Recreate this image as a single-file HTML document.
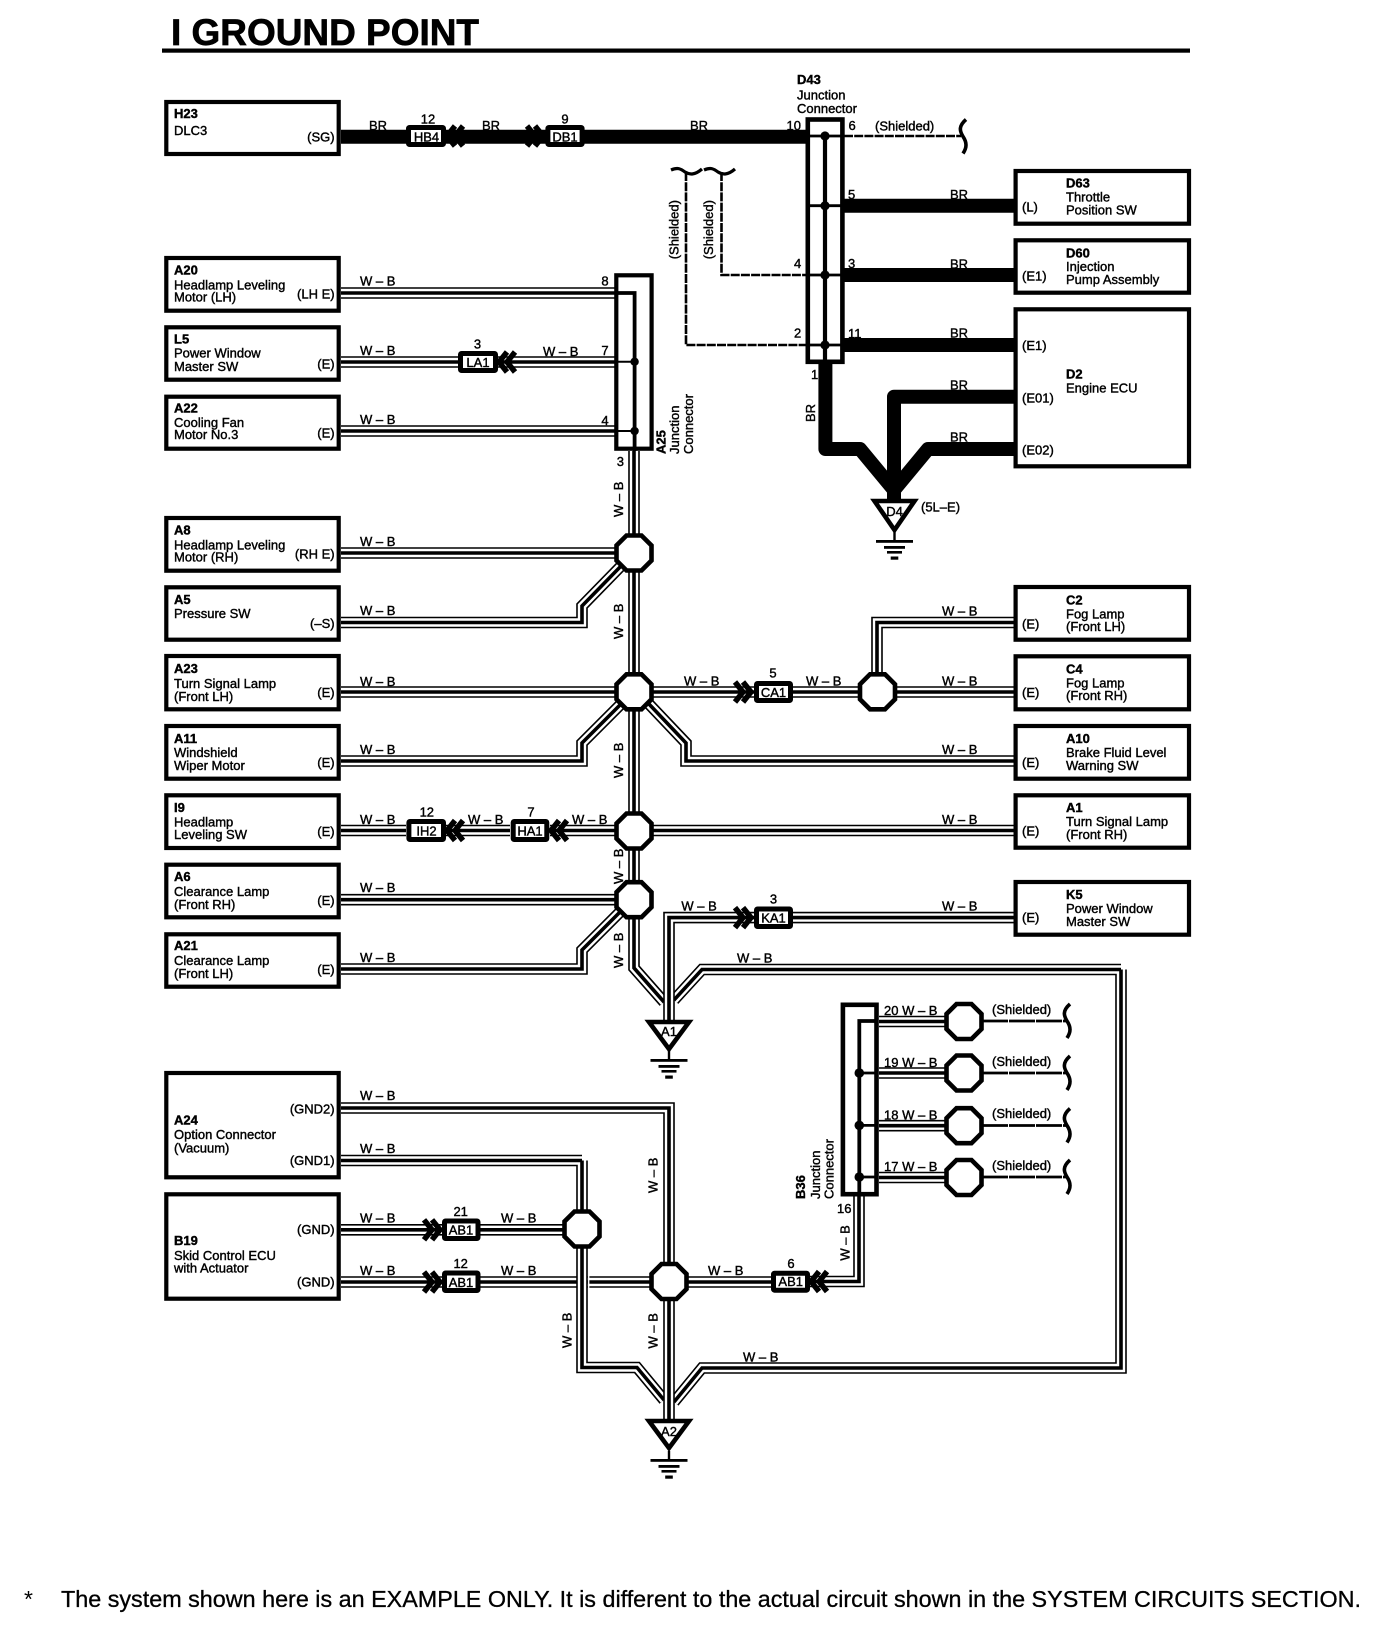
<!DOCTYPE html>
<html><head><meta charset="utf-8"><title>I GROUND POINT</title>
<style>
html,body{margin:0;padding:0;background:#fff}
svg{display:block}
text{font-family:"Liberation Sans",Arial,sans-serif;font-size:13px;fill:#000;stroke:#000;stroke-width:.4}
.b{font-weight:bold}
.e{text-anchor:end}
.m{text-anchor:middle}
.box rect{fill:#fff;stroke:#000;stroke-width:4.2}
.sb rect{fill:#fff;stroke:#000;stroke-width:5}
.oc use{fill:#fff;stroke:#000;stroke-width:4.6}
.tri polygon{fill:#fff;stroke:#000;stroke-width:4.6;stroke-miterlimit:8}
</style></head><body>
<svg width="1392" height="1628" viewBox="0 0 1392 1628" xmlns="http://www.w3.org/2000/svg">
<defs>
<g id="w0" fill="none">
<path d="M341 293H615M341 362H458M498 362H615M341 431H615"/>
<path d="M341 553H634M341 692H1014M341 830.5H406M446 830.5H510M550 830.5H1014M341 899.7H634"/>
<path d="M793 917.6H1014M877 692V622.5H1014"/>
<path d="M341 1229.8H582M341 1282H771M859 1190V1281.5H810"/>
<path d="M879 1021.5H964M879 1073H964M879 1125.7H964M879 1177.5H964"/>
</g>
<g id="w1" fill="none">
<path d="M341 622.5H582V606L622 565"/>
<path d="M341 761H582V743L622 703"/>
<path d="M648 703L686 743V761H1014"/>
<path d="M341 969H582V950L622 910"/>
<path d="M634 451V968L664 1002"/>
<path d="M1121 969.5H702L674 1000M1121 969.5V1368H702L674 1402"/>
<path d="M582 1160.5H341M582 1160.5V1367.5H637L664 1400"/>
</g>
<g id="w2" fill="none">
<path d="M754 917.6H669V1022"/>
<path d="M341 1108H669V1421"/>
</g>
<polygon id="oct" points="-7.5,-17.5 7.5,-17.5 17.5,-7.5 17.5,7.5 7.5,17.5 -7.5,17.5 -17.5,7.5 -17.5,-7.5"/>
<g id="cr" fill="none" stroke="#000" stroke-width="5.5"><path d="M0 -10L8 0L0 10M8 -10L16 0L8 10"/></g>
<g id="cl" fill="none" stroke="#000" stroke-width="5.5"><path d="M8 -10L0 0L8 10M16 -10L8 0L16 10"/></g>
<path id="sq" d="M3 -17C-5 -10 -3 -5 0 0C4 6 4 11 0 17" fill="none" stroke="#000" stroke-width="3.6"/>
<path id="sh" d="M-16 -2C-9 -5 -6 -3 -2 0C3 3 8 3 15 -3" fill="none" stroke="#000" stroke-width="3.2"/>
<g id="gnd" fill="#000"><rect x="-1.2" y="0" width="2.4" height="9"/><rect x="-18.5" y="8" width="37" height="2.8"/><rect x="-10.5" y="14" width="21" height="2.8"/><rect x="-7.5" y="19" width="15" height="2.6"/><rect x="-3.8" y="24.5" width="7.6" height="3.2"/></g>
</defs>

<!-- title -->
<text x="171" y="45" class="b" style="font-size:36.6px;stroke-width:.7" textLength="308" lengthAdjust="spacingAndGlyphs">I GROUND POINT</text>
<rect x="162" y="48.5" width="1028" height="4.2" fill="#000"/>

<!-- thin wires -->
<use href="#w0" stroke="#000" stroke-width="11.6"/><use href="#w0" stroke="#fff" stroke-width="8.4"/><use href="#w0" stroke="#000" stroke-width="3.6"/>
<rect x="587.8" y="1275" width="1.6" height="14" fill="#fff"/>
<use href="#w1" stroke="#000" stroke-width="11.6"/><use href="#w1" stroke="#fff" stroke-width="8.4"/><use href="#w1" stroke="#000" stroke-width="3.6"/>
<use href="#w2" stroke="#000" stroke-width="11.6"/><use href="#w2" stroke="#fff" stroke-width="8.4"/><use href="#w2" stroke="#000" stroke-width="3.6"/>

<!-- thick BR wires -->
<g fill="none" stroke="#000" stroke-width="14" stroke-linejoin="round">
<path d="M341 136.7H806M844 205.7H1014M844 275H1014M844 345H1014"/>
<path d="M825.4 362V449H860L894 490"/>
<path d="M1014 449H928L894 490"/>
<path d="M1014 396.7H894V500"/>
</g>

<!-- shielded dashed -->
<g fill="none" stroke="#000" stroke-width="2.6" stroke-dasharray="9 1.2">
<path d="M844 136H961"/>
<path d="M721.5 172V275H806"/>
<path d="M686 172V345H806"/>
</g>
<g fill="none" stroke="#000" stroke-width="2.8" stroke-dasharray="26 1">
<path d="M982 1021H1067M982 1073H1067M982 1125.5H1067M982 1177H1067"/>
</g>
<use href="#sq" x="963" y="136.5"/>
<use href="#sh" x="687" y="172"/><use href="#sh" x="720" y="172"/>
<use href="#sq" x="1067" y="1021"/><use href="#sq" x="1067" y="1073"/><use href="#sq" x="1067" y="1125.5"/><use href="#sq" x="1067" y="1177"/>

<!-- octagons -->
<g class="oc">
<use href="#oct" x="634" y="553"/><use href="#oct" x="634" y="691.8"/><use href="#oct" x="634" y="831"/><use href="#oct" x="634" y="899.7"/>
<use href="#oct" x="877.5" y="691.8"/><use href="#oct" x="582" y="1229"/><use href="#oct" x="669" y="1281.5"/>
<use href="#oct" x="964" y="1021.5"/><use href="#oct" x="964" y="1073"/><use href="#oct" x="964" y="1125.7"/><use href="#oct" x="964" y="1177.5"/>
</g>

<!-- main boxes -->
<g class="box">
<rect x="166.3" y="102" width="172.4" height="52"/>
<rect x="166.3" y="258" width="172.4" height="52.7"/>
<rect x="166.3" y="327.3" width="172.4" height="52.4"/>
<rect x="166.3" y="396.7" width="172.4" height="52"/>
<rect x="166.3" y="518" width="172.4" height="52.7"/>
<rect x="166.3" y="587.3" width="172.4" height="52.4"/>
<rect x="166.3" y="656" width="172.4" height="53.3"/>
<rect x="166.3" y="726" width="172.4" height="52.7"/>
<rect x="166.3" y="795.3" width="172.4" height="52.7"/>
<rect x="166.3" y="864.7" width="172.4" height="52.6"/>
<rect x="166.3" y="934.3" width="172.4" height="52.4"/>
<rect x="166.3" y="1073" width="172.4" height="104.3"/>
<rect x="166.3" y="1194.3" width="172.4" height="104.4"/>
<rect x="1015.6" y="171" width="173.4" height="52.7"/>
<rect x="1015.6" y="240.3" width="173.4" height="52.4"/>
<rect x="1015.6" y="309.3" width="173.4" height="157"/>
<rect x="1015.6" y="587" width="173.4" height="52.7"/>
<rect x="1015.6" y="656.3" width="173.4" height="53"/>
<rect x="1015.6" y="726" width="173.4" height="52.7"/>
<rect x="1015.6" y="795.3" width="173.4" height="52.4"/>
<rect x="1015.6" y="882" width="173.4" height="52.7"/>
<!-- junction connectors -->
<rect x="616.3" y="275.3" width="35.3" height="173.4"/>
<rect x="807.8" y="119.5" width="34.6" height="242.3" style="stroke-width:4.6"/>
<rect x="842.9" y="1004.8" width="33.6" height="189.4" style="stroke-width:4.6"/>
</g>

<!-- internals -->
<g fill="none" stroke="#000">
<path d="M616 293H634.6V451" stroke-width="3.8"/>
<path d="M616 361.7H634.6M616 431H634.6" stroke-width="2"/>
<path d="M825 136V364" stroke-width="4.2"/>
<path d="M807 136H843M807 205.7H843M807 275H843M807 345H843" stroke-width="2.8"/>
<path d="M859.3 1196V1021H877" stroke-width="3.8"/>
<path d="M859 1073H877M859 1125.4H877M859 1177H877" stroke-width="2.8"/>
</g>
<g fill="#000">
<circle cx="634.6" cy="361.7" r="4.2"/><circle cx="634.6" cy="431" r="4.2"/>
<circle cx="825" cy="136" r="4.6"/><circle cx="825" cy="205.7" r="4.6"/><circle cx="825" cy="275" r="4.6"/><circle cx="825" cy="345" r="4.6"/>
<circle cx="859.3" cy="1073" r="4.8"/><circle cx="859.3" cy="1125.4" r="4.8"/><circle cx="859.3" cy="1177" r="4.8"/>
</g>

<!-- small connectors -->
<g class="sb">
<rect x="408.5" y="127.5" width="35" height="17" rx="1"/><rect x="547.9" y="127.5" width="34.2" height="17" rx="1"/>
<rect x="460.5" y="353.5" width="35" height="17" rx="1"/>
<rect x="408.9" y="821.5" width="34.6" height="18" rx="1"/><rect x="513.2" y="821.5" width="33.6" height="18" rx="1"/>
<rect x="756.5" y="683.5" width="34" height="17" rx="1"/><rect x="756.5" y="909" width="34" height="17.5" rx="1"/>
<rect x="444.5" y="1221" width="33.5" height="17.5" rx="1"/><rect x="444.5" y="1273" width="33.5" height="17.5" rx="1"/>
<rect x="773.5" y="1273.2" width="34" height="17" rx="1"/>
</g>
<use href="#cl" x="447" y="136"/><use href="#cr" x="527" y="136"/>
<use href="#cl" x="499" y="362"/><use href="#cl" x="447" y="830.5"/><use href="#cl" x="551" y="830.5"/>
<use href="#cr" x="735" y="692"/><use href="#cr" x="735" y="917.6"/>
<use href="#cr" x="424" y="1229.8"/><use href="#cr" x="424" y="1282"/><use href="#cl" x="811" y="1281.5"/>

<!-- grounds -->
<g class="tri">
<polygon points="874.5,501 914.5,501 894.5,530"/>
<polygon points="649,1022 689,1022 669,1049"/>
<polygon points="649,1421 689,1421 669,1448"/>
</g>
<use href="#gnd" x="894.5" y="532"/><use href="#gnd" x="669" y="1051"/><use href="#gnd" x="669" y="1451"/>
<text x="894.5" y="516" class="m">D4</text><text x="669" y="1036" class="m">A1</text><text x="669" y="1436" class="m">A2</text>
<text x="921" y="511.7">(5L–E)</text>

<!-- small connector labels -->
<text x="428" y="123.3" class="m">12</text><text x="426.5" y="141.5" class="m">HB4</text>
<text x="565" y="123.3" class="m">9</text><text x="565" y="141.5" class="m">DB1</text>
<text x="477.5" y="348.3" class="m">3</text><text x="478" y="367" class="m">LA1</text>
<text x="426.8" y="816.7" class="m">12</text><text x="426.5" y="835.5" class="m">IH2</text>
<text x="531" y="816.7" class="m">7</text><text x="530" y="835.5" class="m">HA1</text>
<text x="773" y="677.3" class="m">5</text><text x="773.5" y="697" class="m">CA1</text>
<text x="773.5" y="903.3" class="m">3</text><text x="773.5" y="922.5" class="m">KA1</text>
<text x="460.7" y="1216" class="m">21</text><text x="461" y="1234.5" class="m">AB1</text>
<text x="460.7" y="1268" class="m">12</text><text x="461" y="1287" class="m">AB1</text>
<text x="791" y="1268" class="m">6</text><text x="790.7" y="1286" class="m">AB1</text>

<!-- left box texts -->
<text x="174" y="118" class="b">H23</text><text x="174" y="135">DLC3</text><text x="334.6" y="141.7" class="e">(SG)</text>
<text x="174" y="274.3" class="b">A20</text><text x="174" y="289.3">Headlamp Leveling</text><text x="174" y="301.7">Motor (LH)</text><text x="334.6" y="298.3" class="e">(LH E)</text>
<text x="174" y="343.3" class="b">L5</text><text x="174" y="357.7">Power Window</text><text x="174" y="371">Master SW</text><text x="334.6" y="368.3" class="e">(E)</text>
<text x="174" y="412.7" class="b">A22</text><text x="174" y="427">Cooling Fan</text><text x="174" y="439">Motor No.3</text><text x="334.6" y="437.7" class="e">(E)</text>
<text x="174" y="534.3" class="b">A8</text><text x="174" y="549.3">Headlamp Leveling</text><text x="174" y="561.7">Motor (RH)</text><text x="334.6" y="558.3" class="e">(RH E)</text>
<text x="174" y="604" class="b">A5</text><text x="174" y="618">Pressure SW</text><text x="334.6" y="628" class="e">(–S)</text>
<text x="174" y="673" class="b">A23</text><text x="174" y="688">Turn Signal Lamp</text><text x="174" y="701">(Front LH)</text><text x="334.6" y="697" class="e">(E)</text>
<text x="174" y="743" class="b">A11</text><text x="174" y="757">Windshield</text><text x="174" y="770">Wiper Motor</text><text x="334.6" y="767" class="e">(E)</text>
<text x="174" y="812" class="b">I9</text><text x="174" y="826.5">Headlamp</text><text x="174" y="839">Leveling SW</text><text x="334.6" y="836" class="e">(E)</text>
<text x="174" y="881" class="b">A6</text><text x="174" y="896">Clearance Lamp</text><text x="174" y="909">(Front RH)</text><text x="334.6" y="905" class="e">(E)</text>
<text x="174" y="950" class="b">A21</text><text x="174" y="965">Clearance Lamp</text><text x="174" y="978">(Front LH)</text><text x="334.6" y="974" class="e">(E)</text>
<text x="174" y="1124.3" class="b">A24</text><text x="174" y="1139">Option Connector</text><text x="174" y="1152.7">(Vacuum)</text><text x="334.6" y="1113.3" class="e">(GND2)</text><text x="334.6" y="1165" class="e">(GND1)</text>
<text x="174" y="1245" class="b">B19</text><text x="174" y="1260">Skid Control ECU</text><text x="174" y="1272.7">with Actuator</text><text x="334.6" y="1234" class="e">(GND)</text><text x="334.6" y="1286.7" class="e">(GND)</text>

<!-- right box texts -->
<text x="1066" y="187.7" class="b">D63</text><text x="1066" y="201.7">Throttle</text><text x="1066" y="214.3">Position SW</text><text x="1022" y="211.7">(L)</text>
<text x="1066" y="257.3" class="b">D60</text><text x="1066" y="271">Injection</text><text x="1066" y="284">Pump Assembly</text><text x="1022" y="280.7">(E1)</text>
<text x="1066" y="378.3" class="b">D2</text><text x="1066" y="392.7">Engine ECU</text><text x="1022" y="350">(E1)</text><text x="1022" y="402.3">(E01)</text><text x="1022" y="454.3">(E02)</text>
<text x="1066" y="604.3" class="b">C2</text><text x="1066" y="618.3">Fog Lamp</text><text x="1066" y="631">(Front LH)</text><text x="1022" y="628.3">(E)</text>
<text x="1066" y="673.3" class="b">C4</text><text x="1066" y="687.3">Fog Lamp</text><text x="1066" y="700">(Front RH)</text><text x="1022" y="697">(E)</text>
<text x="1066" y="743" class="b">A10</text><text x="1066" y="757">Brake Fluid Level</text><text x="1066" y="770">Warning SW</text><text x="1022" y="767">(E)</text>
<text x="1066" y="812" class="b">A1</text><text x="1066" y="826">Turn Signal Lamp</text><text x="1066" y="839">(Front RH)</text><text x="1022" y="835.5">(E)</text>
<text x="1066" y="899" class="b">K5</text><text x="1066" y="913">Power Window</text><text x="1066" y="926">Master SW</text><text x="1022" y="922">(E)</text>

<!-- D43 labels -->
<text x="797" y="84" class="b">D43</text><text x="797" y="99.3">Junction</text><text x="797" y="113">Connector</text>
<text x="786.5" y="130">10</text><text x="848.5" y="130">6</text><text x="875" y="130.7">(Shielded)</text>
<text x="848" y="199">5</text><text x="848" y="268">3</text><text x="848" y="338">11</text>
<text x="794" y="268">4</text><text x="794" y="337.7">2</text><text x="811" y="379">1</text>
<text x="369" y="130">BR</text><text x="482" y="130">BR</text><text x="690" y="130">BR</text>
<text x="950" y="199">BR</text><text x="950" y="268.3">BR</text><text x="950" y="337.7">BR</text><text x="950" y="389.3">BR</text><text x="950" y="441.7">BR</text>
<text transform="translate(815 422) rotate(-90)">BR</text>
<text transform="translate(678.5 259.3) rotate(-90)">(Shielded)</text>
<text transform="translate(713 259.3) rotate(-90)">(Shielded)</text>

<!-- A25 labels -->
<text transform="translate(665.7 454) rotate(-90)" class="b">A25</text>
<text transform="translate(679 454) rotate(-90)">Junction</text>
<text transform="translate(693 454) rotate(-90)">Connector</text>
<text x="605" y="285.7" class="m">8</text><text x="605" y="355" class="m">7</text><text x="605" y="425" class="m">4</text><text x="620.4" y="466" class="m">3</text>

<!-- W-B horizontal labels -->
<g>
<text x="360" y="285.7">W – B</text><text x="360" y="355">W – B</text><text x="543" y="356">W – B</text><text x="360" y="424">W – B</text>
<text x="360" y="546">W – B</text><text x="360" y="615">W – B</text><text x="360" y="686">W – B</text><text x="360" y="754">W – B</text>
<text x="360" y="824">W – B</text><text x="468" y="824">W – B</text><text x="572" y="824">W – B</text>
<text x="360" y="892">W – B</text><text x="360" y="962">W – B</text>
<text x="684" y="685.7">W – B</text><text x="806" y="685.7">W – B</text>
<text x="942" y="615.7">W – B</text><text x="942" y="685.7">W – B</text><text x="942" y="754">W – B</text><text x="942" y="824">W – B</text>
<text x="681.4" y="910.7">W – B</text><text x="942" y="910.7">W – B</text><text x="737" y="962.7">W – B</text>
<text x="360" y="1100">W – B</text><text x="360" y="1153">W – B</text><text x="360" y="1222.7">W – B</text><text x="360" y="1275">W – B</text>
<text x="501" y="1222.7">W – B</text><text x="501" y="1275">W – B</text><text x="708" y="1274.8">W – B</text><text x="743" y="1361.3">W – B</text>
<text x="884" y="1014.8">20 W – B</text><text x="884" y="1067.2">19 W – B</text><text x="884" y="1119.3">18 W – B</text><text x="884" y="1171">17 W – B</text>
<text x="992" y="1013.8">(Shielded)</text><text x="992" y="1066.2">(Shielded)</text><text x="992" y="1118">(Shielded)</text><text x="992" y="1170">(Shielded)</text>
</g>

<!-- W-B rotated labels -->
<text transform="translate(623 517) rotate(-90)">W – B</text>
<text transform="translate(623 639) rotate(-90)">W – B</text>
<text transform="translate(623 778) rotate(-90)">W – B</text>
<text transform="translate(623 884) rotate(-90)">W – B</text>
<text transform="translate(623 968) rotate(-90)">W – B</text>
<text transform="translate(657.3 1193) rotate(-90)">W – B</text>
<text transform="translate(657.3 1348.5) rotate(-90)">W – B</text>
<text transform="translate(571.4 1348) rotate(-90)">W – B</text>
<text transform="translate(849.3 1260.6) rotate(-90)">W – B</text>

<!-- B36 labels -->
<text transform="translate(805 1199) rotate(-90)" class="b">B36</text>
<text transform="translate(820 1199) rotate(-90)">Junction</text>
<text transform="translate(833.3 1199) rotate(-90)">Connector</text>
<text x="837" y="1213">16</text>

<!-- footer -->
<text x="24" y="1607" style="font-size:23px;stroke-width:0">*</text>
<text x="61" y="1607" style="font-size:23px;stroke-width:.3" textLength="1300" lengthAdjust="spacingAndGlyphs">The system shown here is an EXAMPLE ONLY. It is different to the actual circuit shown in the SYSTEM CIRCUITS SECTION.</text>
</svg>
</body></html>
